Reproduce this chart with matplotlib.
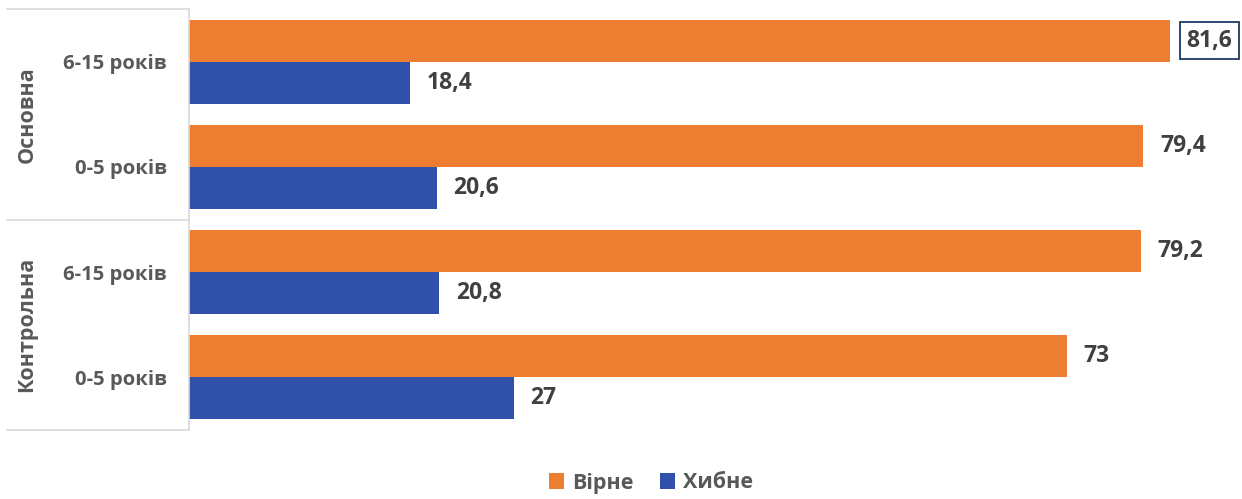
import matplotlib
matplotlib.use("Agg")
import matplotlib.pyplot as plt
import numpy as np

plt.rcParams['font.family'] = ['Open Sans', 'DejaVu Sans']

groups = ["Основна", "Контрольна"]
ages = ["6-15 років", "0-5 років", "6-15 років", "0-5 років"]
series_names = ["Вірне", "Хибне"]
correct = [81.6, 79.4, 79.2, 73]
wrong = [18.4, 20.6, 20.8, 27]

orange = "#ED7D31"
blue = "#3050A9"
label_color = "#404040"
tick_color = "#595959"
grid_color = "#D9D9D9"

W, H = 1242, 499
fig = plt.figure(figsize=(W / 100, H / 100), dpi=100)
ax_left, ax_right, ax_top, ax_bottom = 189, 1242, 9, 430
ax = fig.add_axes([ax_left / W, (H - ax_bottom) / H,
                   (ax_right - ax_left) / W, (ax_bottom - ax_top) / H])

n = len(ages)
pos = np.arange(n)[::-1].astype(float)
h = 0.4
ax.barh(pos + h / 2, correct, height=h, color=orange, label=series_names[0])
ax.barh(pos - h / 2, wrong, height=h, color=blue, label=series_names[1])

ax.set_xlim(0, 87.6)
ax.set_ylim(-0.5, n - 0.5)
ax.set_xticks([])
ax.set_yticks(pos)
ax.set_yticklabels(ages, fontsize=14.6, fontweight='bold', color=tick_color)
ax.tick_params(axis='y', length=0, pad=16)
for s in ['top', 'right', 'bottom']:
    ax.spines[s].set_visible(False)
ax.spines['left'].set_color(grid_color)
ax.spines['left'].set_linewidth(1.2)


def fmt(v):
    return (f"{v:g}").replace(".", ",")


for i, v in enumerate(correct):
    kw = {}
    if i == 0:
        kw['bbox'] = dict(boxstyle='square,pad=0.3', facecolor='white',
                          edgecolor='#1F3864', linewidth=1.3)
    ax.annotate(fmt(v), (v, pos[i] + h / 2), xytext=(12, 0),
                textcoords='offset points', va='center', ha='left',
                fontsize=16.5, fontweight='bold', color=label_color, **kw)
for i, v in enumerate(wrong):
    ax.annotate(fmt(v), (v, pos[i] - h / 2), xytext=(12, 0),
                textcoords='offset points', va='center', ha='left',
                fontsize=16.5, fontweight='bold', color=label_color)

# group separators on the category axis
tr = ax.get_yaxis_transform()
x0 = (7 - ax_left) / (ax_right - ax_left)
for y in [n - 0.5, 1.5, -0.5]:
    ax.plot([x0, 0], [y, y], color=grid_color, lw=1.2, transform=tr,
            clip_on=False)

gx = x0 + (27 - 7) / (ax_right - ax_left)
ax.text(gx, 2.5, groups[0], transform=tr, rotation=90, ha='center',
        va='center', fontsize=15.5, fontweight='bold', color=tick_color)
ax.text(gx, 0.5, groups[1], transform=tr, rotation=90, ha='center',
        va='center', fontsize=15.5, fontweight='bold', color=tick_color)

leg = fig.legend(loc='center', bbox_to_anchor=(651 / W, 1 - 483 / H),
                 ncol=2, frameon=False, handlelength=0.7, handleheight=0.7,
                 handletextpad=0.4, columnspacing=1.2,
                 prop={'size': 15.5, 'weight': 'bold'})
for t in leg.get_texts():
    t.set_color(tick_color)

fig.savefig("out.png", dpi=100)
